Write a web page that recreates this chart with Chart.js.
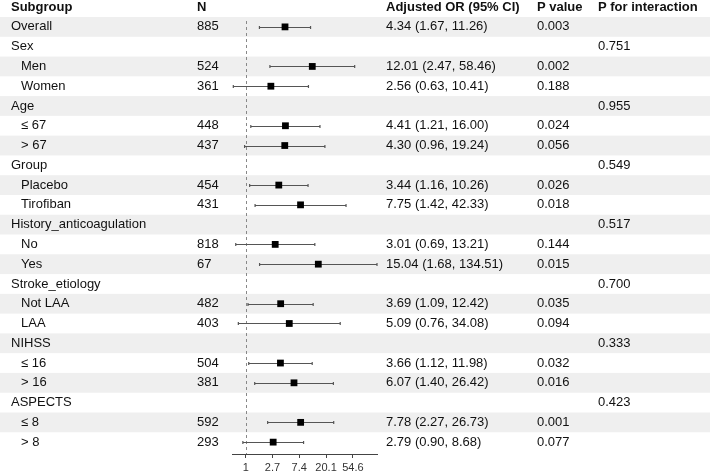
<!DOCTYPE html>
<html>
<head>
<meta charset="utf-8">
<script src="https://cdn.jsdelivr.net/npm/chart.js@4/dist/chart.umd.min.js"></script>
<style>
  html, body { margin: 0; padding: 0; background: #fff; }
  #wrap { width: 710px; height: 473px; position: relative; }
</style>
</head>
<body>
<div id="wrap"><canvas id="forest"></canvas></div>
<script>
// ── Data ─────────────────────────────────────────────────
const subgroups = ["Overall", "Sex", "Men", "Women", "Age", "≤ 67", "> 67", "Group", "Placebo", "Tirofiban",
  "History_anticoagulation", "No", "Yes", "Stroke_etiology", "Not LAA", "LAA", "NIHSS", "≤ 16", "> 16",
  "ASPECTS", "≤ 8", "> 8"];
const indented = [0, 0, 1, 1, 0, 1, 1, 0, 1, 1, 0, 1, 1, 0, 1, 1, 0, 1, 1, 0, 1, 1];
const nValues = [885, null, 524, 361, null, 448, 437, null, 454, 431, null, 818, 67, null, 482, 403, null, 504, 381, null, 592, 293];
const orValues = [4.34, null, 12.01, 2.56, null, 4.41, 4.30, null, 3.44, 7.75, null, 3.01, 15.04, null, 3.69, 5.09, null, 3.66, 6.07, null, 7.78, 2.79];
const ciLow = [1.67, null, 2.47, 0.63, null, 1.21, 0.96, null, 1.16, 1.42, null, 0.69, 1.68, null, 1.09, 0.76, null, 1.12, 1.40, null, 2.27, 0.90];
const ciHigh = [11.26, null, 58.46, 10.41, null, 16.00, 19.24, null, 10.26, 42.33, null, 13.21, 134.51, null, 12.42, 34.08, null, 11.98, 26.42, null, 26.73, 8.68];
const pValues = ["0.003", "", "0.002", "0.188", "", "0.024", "0.056", "", "0.026", "0.018", "", "0.144", "0.015", "", "0.035", "0.094", "", "0.032", "0.016", "", "0.001", "0.077"];
const pInteraction = ["", "0.751", "", "", "0.955", "", "", "0.549", "", "", "0.517", "", "", "0.700", "", "", "0.333", "", "", "0.423", "", ""];
const headers = ["Subgroup", "N", "Adjusted OR (95% CI)", "P value", "P for interaction"];
const tickValues = [1, Math.E, Math.exp(2), Math.exp(3), Math.exp(4)];
const tickLabels = ["1", "2.7", "7.4", "20.1", "54.6"];

// ── Layout ───────────────────────────────────────────────
const FONT = '"Liberation Sans", Arial, Helvetica, sans-serif';
const colX = { label: 11, indent: 21, n: 197, or: 386, p: 537, pint: 598 };

const points = [];
orValues.forEach((v, i) => { if (v != null) points.push({ x: v, y: i }); });

// ── Table / bands / whiskers plugin ──────────────────────
const forestPlugin = {
  id: "forest",
  beforeDraw(chart) {
    const { ctx, scales: { x, y } } = chart;
    ctx.save();
    ctx.fillStyle = "#efefef";
    for (let i = 0; i < subgroups.length; i += 2) {
      const top = y.getPixelForValue(i - 0.5);
      const bot = y.getPixelForValue(i + 0.5);
      ctx.fillRect(0, top, chart.width, bot - top);
    }
    // reference line at OR = 1
    const x1 = Math.round(x.getPixelForValue(1)) + 0.5;
    ctx.strokeStyle = "#888";
    ctx.lineWidth = 1;
    ctx.setLineDash([3, 3]);
    ctx.beginPath();
    ctx.moveTo(x1, chart.chartArea.top + 4);
    ctx.lineTo(x1, chart.chartArea.bottom);
    ctx.stroke();
    ctx.setLineDash([]);
    ctx.restore();
  },
  beforeDatasetsDraw(chart) {
    const { ctx, scales: { x, y } } = chart;
    ctx.save();
    ctx.strokeStyle = "#555";
    ctx.lineWidth = 1.2;
    subgroups.forEach((_, i) => {
      if (orValues[i] == null) return;
      const yp = Math.round(y.getPixelForValue(i)) + 0.5;
      const a = x.getPixelForValue(ciLow[i]);
      const b = x.getPixelForValue(ciHigh[i]);
      ctx.beginPath();
      ctx.moveTo(a, yp); ctx.lineTo(b, yp);
      ctx.moveTo(a, yp - 1.5); ctx.lineTo(a, yp + 1.5);
      ctx.moveTo(b, yp - 1.5); ctx.lineTo(b, yp + 1.5);
      ctx.stroke();
    });
    ctx.restore();
  },
  afterDraw(chart) {
    const { ctx, scales: { y } } = chart;
    ctx.save();
    ctx.textBaseline = "middle";
    ctx.textAlign = "left";
    ctx.fillStyle = "#111";
    // header row
    const hy = y.getPixelForValue(-1);
    ctx.font = `bold 13px ${FONT}`;
    const hx = [colX.label, colX.n, colX.or, colX.p, colX.pint];
    headers.forEach((h, k) => ctx.fillText(h, hx[k], hy));
    // body rows
    ctx.font = `13px ${FONT}`;
    subgroups.forEach((s, i) => {
      const yp = y.getPixelForValue(i);
      ctx.fillText(s, indented[i] ? colX.indent : colX.label, yp);
      if (nValues[i] != null) ctx.fillText(String(nValues[i]), colX.n, yp);
      if (orValues[i] != null) {
        const txt = `${orValues[i].toFixed(2)} (${ciLow[i].toFixed(2)}, ${ciHigh[i].toFixed(2)})`;
        ctx.fillText(txt, colX.or, yp);
      }
      if (pValues[i]) ctx.fillText(pValues[i], colX.p, yp);
      if (pInteraction[i]) ctx.fillText(pInteraction[i], colX.pint, yp);
    });
    ctx.restore();
  },
};

// ── Chart ────────────────────────────────────────────────
new Chart(document.getElementById("forest"), {
  type: "scatter",
  data: {
    datasets: [{
      data: points,
      pointStyle: "rect",
      pointRadius: 4.8,
      pointHoverRadius: 4.8,
      backgroundColor: "#000",
      borderWidth: 0,
    }],
  },
  options: {
    responsive: true,
    maintainAspectRatio: false,
    animation: false,
    events: [],
    layout: { padding: { left: 232, right: 333, top: 17, bottom: 0 } },
    plugins: { legend: { display: false }, tooltip: { enabled: false } },
    scales: {
      x: {
        type: "logarithmic",
        min: Math.min(...ciLow.filter(v => v != null)),
        max: Math.max(...ciHigh.filter(v => v != null)),
        afterBuildTicks: scale => { scale.ticks = tickValues.map(v => ({ value: v })); },
        afterFit: scale => { scale.height = 19; },
        ticks: {
          autoSkip: false,
          maxRotation: 0,
          padding: 3,
          color: "#333",
          font: { family: FONT, size: 11 },
          callback: (v, idx) => tickLabels[idx],
        },
        grid: { drawOnChartArea: false, drawTicks: true, tickLength: 4, color: "#444" },
        border: { display: true, color: "#444" },
      },
      y: {
        type: "linear",
        reverse: true,
        min: -0.5,
        max: 21.6,
        display: false,
      },
    },
  },
  plugins: [forestPlugin],
});
</script>
</body>
</html>
